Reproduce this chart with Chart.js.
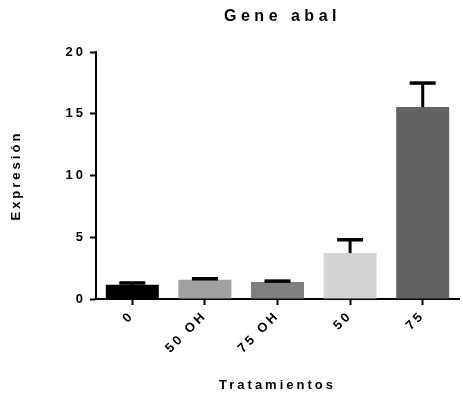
<!DOCTYPE html>
<html>
<head>
<meta charset="utf-8">
<script src="https://cdn.jsdelivr.net/npm/chart.js@4"></script>
<style>
  html, body { margin: 0; padding: 0; background: #fff; }
  #wrap { width: 463px; height: 398px; }
</style>
</head>
<body>
<div id="wrap"><canvas id="geneChart" width="463" height="398"></canvas></div>
<script>
const treatments = ["0", "50 OH", "75 OH", "50", "75"];
const expression = [1.15, 1.56, 1.38, 3.72, 15.55];
const errorUp = [0.15, 0.08, 0.07, 1.08, 1.95];
const barColors = ["#000000", "#a0a0a4", "#808080", "#d4d4d4", "#636363"];
const yTicks = [0, 5, 10, 15, 20];

const FONT = "'Liberation Sans', Arial, sans-serif";
const SPACING = "3px";
const TITLE_SPACING = "4.5px";

// canvas letter spacing (the canvas state resets when chart.js resizes it)
const spacingPlugin = {
  id: "spacing",
  beforeUpdate(chart) { chart.ctx.letterSpacing = SPACING; },
  afterLayout(chart) {
    const tb = chart.titleBlock;
    // centre the title over the plot area, like the original
    tb.left = chart.chartArea.left;
    tb.right = chart.chartArea.right + 10;
    if (!tb._spaced) {
      const draw = tb.draw.bind(tb);
      tb.draw = function () {
        chart.ctx.letterSpacing = TITLE_SPACING;
        draw();
        chart.ctx.letterSpacing = SPACING;
      };
      tb._spaced = true;
    }
  },
  beforeDraw(chart) { chart.ctx.letterSpacing = SPACING; },
};

// upper-only error bars with caps
const errorBars = {
  id: "errorBars",
  afterDatasetsDraw(chart) {
    const ctx = chart.ctx;
    const x = chart.scales.x;
    const y = chart.scales.y;
    ctx.save();
    ctx.strokeStyle = "#000";
    ctx.lineCap = "butt";
    expression.forEach((v, i) => {
      const cx = x.getPixelForValue(i);
      const yBar = y.getPixelForValue(v);
      const yTop = y.getPixelForValue(v + errorUp[i]);
      ctx.lineWidth = 3;
      ctx.beginPath();
      ctx.moveTo(cx, yBar);
      ctx.lineTo(cx, yTop);
      ctx.stroke();
      ctx.lineWidth = 3.5;
      ctx.beginPath();
      ctx.moveTo(cx - 13, yTop);
      ctx.lineTo(cx + 13, yTop);
      ctx.stroke();
    });
    ctx.restore();
  },
};

new Chart(document.getElementById("geneChart").getContext("2d"), {
  type: "bar",
  data: {
    labels: treatments,
    datasets: [
      {
        label: "Expresión",
        data: expression,
        backgroundColor: barColors,
        borderWidth: 0,
        categoryPercentage: 1,
        barPercentage: 0.73,
      },
    ],
  },
  options: {
    responsive: false,
    animation: false,
    layout: { padding: { left: 9, right: 4, top: 7, bottom: 5 } },
    plugins: {
      legend: { display: false },
      tooltip: { enabled: false },
      title: {
        display: true,
        text: "Gene abal",
        color: "#000",
        font: { family: FONT, size: 16, weight: "bold" },
        padding: { top: 0, bottom: 26 },
      },
    },
    scales: {
      x: {
        afterFit(scale) { scale.height = 94; },
        grid: {
          offset: false,
          drawOnChartArea: false,
          tickLength: 6,
          tickWidth: 2,
          color: "#000",
        },
        border: { color: "#000", width: 2 },
        ticks: {
          color: "#000",
          font: { family: FONT, size: 13, weight: "bold" },
          minRotation: 45,
          maxRotation: 45,
          padding: 3,
        },
        title: {
          display: true,
          text: "Tratamientos",
          color: "#000",
          font: { family: FONT, size: 13, weight: "bold" },
          padding: { top: 0, bottom: 0 },
        },
      },
      y: {
        min: 0,
        max: 20,
        afterFit(scale) { scale.width = 87; },
        afterBuildTicks(scale) {
          scale.ticks = yTicks.map((v) => ({ value: v }));
        },
        grid: {
          drawOnChartArea: false,
          tickLength: 6,
          tickWidth: 2,
          color: "#000",
        },
        border: { color: "#000", width: 2 },
        ticks: {
          color: "#000",
          font: { family: FONT, size: 13, weight: "bold" },
          padding: 4,
        },
        title: {
          display: true,
          text: "Expresión",
          color: "#000",
          font: { family: FONT, size: 13, weight: "bold" },
          padding: { top: 0, bottom: 0 },
        },
      },
    },
  },
  plugins: [spacingPlugin, errorBars],
});
</script>
</body>
</html>
